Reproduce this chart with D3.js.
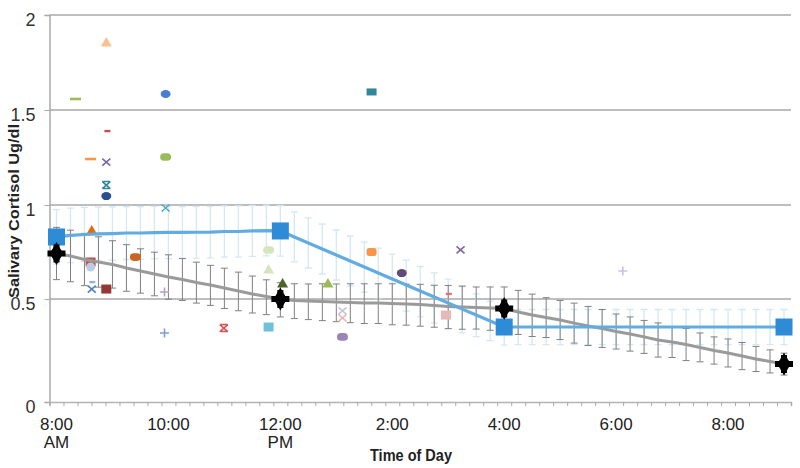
<!DOCTYPE html>
<html><head><meta charset="utf-8">
<script src="https://cdn.jsdelivr.net/npm/d3@7/dist/d3.min.js"></script>
<style>body{margin:0;background:#fff}svg{display:block}</style>
</head><body><svg id="c" width="800" height="468"></svg>
<script>
// ---------- DATA ----------
const categories = [8,8.25,8.5,8.75,9,9.25,9.5,9.75,10,10.25,10.5,10.75,11,11.25,11.5,11.75,12,12.25,12.5,12.75,13,13.25,13.5,13.75,14,14.25,14.5,14.75,15,15.25,15.5,15.75,16,16.25,16.5,16.75,17,17.25,17.5,17.75,18,18.25,18.5,18.75,19,19.25,19.5,19.75,20,20.25,20.5,20.75,21];
const grayMean = [0.742,0.729,0.710,0.697,0.684,0.665,0.649,0.633,0.617,0.604,0.588,0.574,0.559,0.543,0.527,0.513,0.500,
  0.493,0.490,0.488,0.485,0.483,0.481,0.481,0.478,0.476,0.473,0.468,0.464,0.461,0.459,0.456,0.454,
  0.437,0.422,0.410,0.398,0.383,0.369,0.357,0.342,0.330,0.316,0.301,0.291,0.279,0.265,0.250,0.238,0.223,0.209,0.197,0.184];
const grayErr = [0.139,0.137,0.139,0.134,0.126,0.124,0.118,0.116,0.118,0.111,0.108,0.105,0.105,0.100,0.095,0.089,0.087,
  0.088,0.090,0.093,0.095,0.098,0.100,0.100,0.103,0.103,0.105,0.105,0.108,0.108,0.105,0.108,0.110,
  0.109,0.104,0.097,0.095,0.097,0.095,0.092,0.085,0.083,0.080,0.083,0.075,0.078,0.070,0.066,0.068,0.066,0.061,0.056,0.053];
const blueMean = [0.830,0.838,0.843,0.846,0.848,0.851,0.851,0.853,0.854,0.854,0.855,0.856,0.859,0.859,0.862,0.864,0.862,
  0.830,0.798,0.766,0.734,0.702,0.670,0.638,0.606,0.574,0.543,0.511,0.481,0.451,0.422,0.393,0.364,
  0.364,0.364,0.364,0.364,0.364,0.364,0.364,0.364,0.364,0.364,0.364,0.364,0.364,0.364,0.364,0.364,0.364,0.364,0.364,0.364];
const blueErr = [0.145,0.145,0.144,0.143,0.142,0.141,0.140,0.140,0.139,0.138,0.138,0.137,0.136,0.136,0.135,0.135,0.134,
  0.133,0.133,0.133,0.133,0.133,0.133,0.133,0.133,0.133,0.130,0.128,0.125,0.115,0.105,0.095,0.088,
  0.085,0.085,0.085,0.085,0.085,0.085,0.085,0.085,0.085,0.085,0.085,0.085,0.085,0.085,0.085,0.085,0.085,0.085,0.085,0.085];
const keyTimes = [8,12,16,21];
const blueKey = [0.830,0.862,0.364,0.364];
const grayKey = [0.742,0.500,0.454,0.184];
const subjectTimes = [8.89,8.34,9.95,13.63,8.91,8.61,8.89,9.95,8.89,8.89,9.95,8.63,8.61,8.61,8.64,8.63,8.89,9.41,9.93,9.93,10.99,11.79,11.79,11.79,12.04,12.85,13.11,13.11,13.11,13.63,14.17,15.22,14.96,15.01,18.12];
const subjectValues = [1.858,1.558,1.584,1.595,1.389,1.242,1.226,1.253,1.105,1.047,0.984,0.867,0.697,0.670,0.590,0.553,0.553,0.723,0.537,0.335,0.359,0.364,0.761,0.660,0.585,0.585,0.442,0.408,0.316,0.750,0.638,0.761,0.422,0.527,0.649];
const yTicks = [0,0.5,1,1.5,2];
const xTickTimes = [8,10,12,14,16,18,20];
const xTickLabels = [["8:00","AM"],["10:00"],["12:00","PM"],["2:00"],["4:00"],["6:00"],["8:00"]];
const yTitle = "Salivary Cortisol Ug/dl";
const xTitle = "Time of Day";

// ---------- STYLES ----------
const subjectStyles = [
 ["tri","#fac090"],["dash","#9bbb59"],["hex","#4a7fd0"],["rect","#31859c"],["sdash","#c0504d"],
 ["dash","#f79646"],["x","#7a6a9a"],["ellipse","#9bbb59"],["star","#31859c"],["hex","#2a4f8f"],
 ["x","#4bacc6"],["tri","#e46c0a"],["sq","#c0504d"],["circle","#b9cde5"],["sdash","#95b3d7"],
 ["x","#4f81bd"],["sq","#953735"],["ellipse","#c8651f"],["plus","#b3a2c7"],["plus","#7f9fd4"],
 ["star","#d9534f"],["sq","#6fc0d8"],["ellipse","#d7e4bd"],["tri","#d7e4bd"],["tri","#4f6228"],
 ["tri","#9bbb59"],["x","#ccc1da"],["x","#e6b9b8"],["ellipse","#9b85b8"],["rsq","#f79646"],
 ["hex","#604a7b"],["x","#8064a2"],["sq","#e6b9b8"],["sdash","#e57373"],["plus","#ccc1da"]
];
const font = "'Liberation Sans Narrow','Arial Narrow','Liberation Sans',Arial,sans-serif";

// ---------- CHART ----------
const svg = d3.select("#c");
const L = 49.5, R = 791;
const x = d3.scaleBand().domain(categories).range([L, R]);
const bw = x.bandwidth();
const xc = t => x(t) + bw / 2;
const xt = d3.scaleLinear().domain([categories[0], categories[categories.length-1]]).range([xc(categories[0]), xc(categories[categories.length-1])]);
const xEdge = d3.scaleLinear().domain([categories[0]-0.125, categories[categories.length-1]+0.125]).range([L, R]);
const y = d3.scaleLinear().domain(yTicks).range([402, 299, 205, 110, 15]);

// gridlines
svg.append("g").selectAll("line").data(yTicks.filter(d => d > 0)).join("line")
  .attr("x1", L).attr("x2", R).attr("y1", d => y(d)).attr("y2", d => y(d))
  .attr("stroke", "#a9a9a9").attr("stroke-width", 1.5);

// y axis
const ya = svg.append("g").attr("transform", `translate(${L},0)`)
  .call(d3.axisLeft(y).tickValues(yTicks).tickSize(5).tickPadding(9).tickFormat(d3.format("")));
ya.select(".domain").attr("stroke", "#a9a9a9").attr("stroke-width", 1.5);
ya.selectAll(".tick line").attr("stroke", "#a9a9a9");
ya.selectAll(".tick text").attr("font-family", "'Liberation Sans',Arial,sans-serif").attr("font-size", 18).attr("fill", "#333").attr("dy", "0.57em");

// x axis with minor ticks at category boundaries
const edges = categories.map(c => c - 0.125).concat([categories[categories.length-1] + 0.125]);
const xa = svg.append("g").attr("transform", `translate(0,${y(0)})`)
  .call(d3.axisBottom(xEdge).tickValues(edges).tickSize(4).tickFormat(""));
xa.select(".domain").attr("stroke", "#b5b5b5").attr("stroke-width", 1.5);
xa.selectAll(".tick line").attr("stroke", "#a9a9a9");

// x tick labels
const xl = svg.append("g").selectAll("text").data(xTickTimes).join("text")
  .attr("x", d => xt(d)).attr("y", 430).attr("text-anchor", "middle")
  .attr("font-family", font).attr("font-size", 17).attr("fill", "#222");
xl.each(function(d, i) {
  const t = d3.select(this);
  xTickLabels[i].forEach((s, j) => t.append("tspan").attr("x", xt(d)).attr("dy", j === 0 ? 0 : 18).text(s));
});

// titles
svg.append("text").attr("x", 411).attr("y", 461).attr("text-anchor", "middle")
  .attr("font-family", font).attr("font-weight", "bold").attr("font-size", 16).attr("fill", "#222")
  .attr("textLength", 82).attr("lengthAdjust", "spacingAndGlyphs").text(xTitle);
svg.append("text").attr("transform", "translate(19,211) rotate(-90)").attr("text-anchor", "middle")
  .attr("font-family", "'Liberation Sans',Arial,sans-serif").attr("font-weight", "bold").attr("font-size", 15).attr("fill", "#222")
  .attr("textLength", 174).attr("lengthAdjust", "spacingAndGlyphs").text(yTitle);

// error bars
function errBars(mean, err, color, w) {
  const g = svg.append("g").attr("stroke", color).attr("stroke-width", w).attr("fill", "none");
  g.selectAll("path").data(categories.map((c, i) => [c, mean[i], err[i]])).join("path")
    .attr("d", d => {
      const cx = xc(d[0]), t = y(d[1] + d[2]), b = y(d[1] - d[2]);
      return `M${cx},${t}V${b}M${cx-3.5},${t}H${cx+3.5}M${cx-3.5},${b}H${cx+3.5}`;
    });
}
errBars(blueMean, blueErr, "#d3e8f5", 1.3);
errBars(grayMean, grayErr, "#808080", 1);

// subject markers
const sg = svg.append("g");
subjectTimes.forEach((t, i) => {
  const [shape, col] = subjectStyles[i];
  const g = sg.append("g").attr("transform", `translate(${xt(t)},${y(subjectValues[i])})`);
  switch (shape) {
    case "tri": g.append("path").attr("d", "M0,-5L5.5,4.5H-5.5Z").attr("fill", col); break;
    case "dash": g.append("rect").attr("x", -5.5).attr("y", -1.3).attr("width", 11).attr("height", 2.6).attr("fill", col); break;
    case "sdash": g.append("rect").attr("x", -3).attr("y", -1.2).attr("width", 6).attr("height", 2.4).attr("fill", col); break;
    case "hex": g.append("ellipse").attr("rx", 5).attr("ry", 4).attr("fill", col); break;
    case "rect": g.append("rect").attr("x", -5).attr("y", -3.5).attr("width", 10).attr("height", 7).attr("fill", col); break;
    case "sq": g.append("rect").attr("x", -5).attr("y", -4.5).attr("width", 10).attr("height", 9).attr("fill", col); break;
    case "rsq": g.append("rect").attr("x", -5).attr("y", -4).attr("width", 10).attr("height", 8).attr("rx", 2.5).attr("fill", col); break;
    case "ellipse": g.append("rect").attr("x", -5.5).attr("y", -3.8).attr("width", 11).attr("height", 7.6).attr("rx", 3.8).attr("fill", col); break;
    case "circle": g.append("circle").attr("r", 4.5).attr("fill", col); break;
    case "x": g.append("path").attr("d", "M-4,-3.5L4,3.5M4,-3.5L-4,3.5").attr("stroke", col).attr("stroke-width", 1.6); break;
    case "star": g.append("path").attr("d", "M-4,-3.5L4,3.5M4,-3.5L-4,3.5M-4,-3.5H4M-4,3.5H4").attr("stroke", col).attr("stroke-width", 1.6); break;
    case "plus": g.append("path").attr("d", "M-4.5,0H4.5M0,-4.5V4.5").attr("stroke", col).attr("stroke-width", 1.6); break;
  }
});

// mean lines
const line = m => d3.line().x((d, i) => xc(categories[i])).y(d => y(d))(m);
svg.append("path").attr("d", line(grayMean)).attr("fill", "none").attr("stroke", "#9a9a9a").attr("stroke-width", 3);
svg.append("path").attr("d", line(blueMean)).attr("fill", "none").attr("stroke", "#62ace2").attr("stroke-width", 3.2);

// key markers
svg.append("g").selectAll("rect").data(keyTimes.map((t, i) => [t, blueKey[i]])).join("rect")
  .attr("x", d => xc(d[0]) - 8.5).attr("y", d => y(d[1]) - 8.5).attr("width", 17).attr("height", 17).attr("fill", "#2e8bd6");
const kg = svg.append("g").selectAll("g").data(keyTimes.map((t, i) => [t, grayKey[i]])).join("g")
  .attr("transform", d => `translate(${xc(d[0])},${y(d[1])})`);
kg.append("path").attr("d", d3.symbol(d3.symbolCross, 180)).attr("fill", "#000");
kg.append("path").attr("d", d3.symbol(d3.symbolDiamond, 150)).attr("fill", "#000");
kg.append("circle").attr("r", 5.5).attr("fill", "#000");
</script></body></html>
